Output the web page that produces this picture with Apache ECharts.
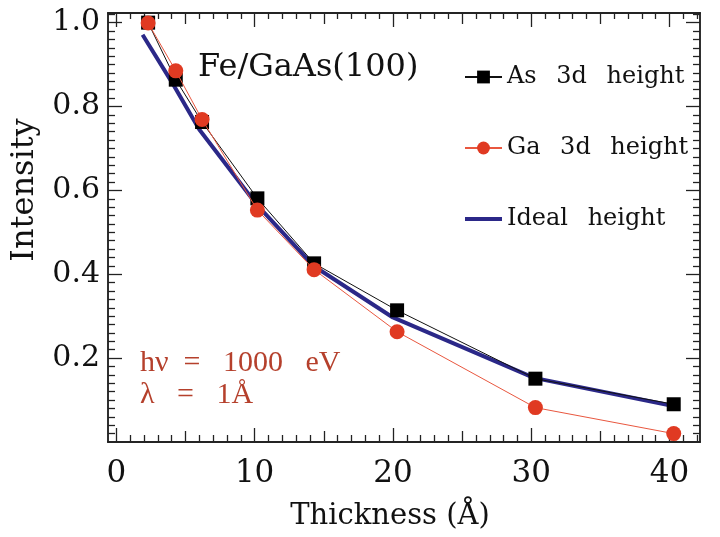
<!DOCTYPE html>
<html>
<head>
<meta charset="utf-8">
<script src="https://cdn.jsdelivr.net/npm/echarts@6/dist/echarts.min.js"></script>
<style>
  html, body { margin: 0; padding: 0; background: #fff; }
  #chart { width: 720px; height: 537px; }
</style>
</head>
<body>
<div id="chart"></div>
<script>
// thickness (A) / normalized intensity
var asThick = [2.3, 4.3, 6.2, 10.2, 14.3, 20.3, 30.3, 40.3];
var asHeight = [1.0, 0.864, 0.763, 0.581, 0.426, 0.314, 0.151, 0.090];
var gaThick = [2.3, 4.3, 6.2, 10.2, 14.3, 20.3, 30.3, 40.3];
var gaHeight = [0.999, 0.885, 0.769, 0.553, 0.411, 0.263, 0.082, 0.020];
var idealThick = [1.9, 4.2, 6.0, 10.1, 14.3, 20.0, 30.2, 40.1];
var idealHeight = [0.971, 0.848, 0.745, 0.568, 0.419, 0.297, 0.153, 0.087];

var xLabels = [0, 10, 20, 30, 40];
var xMedium = [5, 15, 25, 35];
var yLabels = [0.2, 0.4, 0.6, 0.8, 1.0];

var xMin = -0.6, xMax = 42.2;
var yMin = 0, yMax = 1.023;

var serif = 'DejaVu Serif';
var axisColor = '#222';

var asName = 'As\u2002 3d\u2002 height';
var gaName = 'Ga\u2002 3d\u2002 height';
var idealName = 'Ideal\u2002 height';

function pairs(xs, ys) {
    var out = [];
    for (var i = 0; i < xs.length; i++) out.push([xs[i], ys[i]]);
    return out;
}

// minor tick positions
var xMinor = [];
for (var k = 1; k <= 42; k++) {
    if (k % 5 !== 0) xMinor.push(k);
}
var yMinor = [];
for (var m = 1; m <= 51; m++) {
    if (m % 10 !== 0) yMinor.push(Math.round(m * 2) / 100);
}

function makeAxis(pos, min, max, ticks, len, labelOpt) {
    return {
        type: 'value',
        position: pos,
        min: min,
        max: max,
        axisLine: { show: true, onZero: false, lineStyle: { color: axisColor, width: 1.5 } },
        axisTick: { show: true, inside: true, length: len, customValues: ticks,
            lineStyle: { color: axisColor, width: 1.3 } },
        axisLabel: labelOpt || { show: false },
        splitLine: { show: false }
    };
}

var xLabelOpt = {
    show: true, customValues: xLabels, margin: 16,
    fontFamily: serif, fontSize: 31, color: '#111',
    formatter: function (v) { return String(v); }
};
var yLabelOpt = {
    show: true, customValues: yLabels, margin: 8,
    fontFamily: serif, fontSize: 30, color: '#111',
    formatter: function (v) { return v.toFixed(1); }
};

var chart = echarts.init(document.getElementById('chart'));
chart.setOption({
    backgroundColor: '#fff',
    animation: false,
    title: {
        text: 'Fe/GaAs(100)',
        left: 193, top: 47,
        textStyle: { fontFamily: serif, fontSize: 32, fontWeight: 'normal', color: '#111' }
    },
    grid: { left: 108, right: 20, top: 13, bottom: 95 },
    xAxis: [
        makeAxis('bottom', xMin, xMax, xLabels, 14, xLabelOpt),
        makeAxis('bottom', xMin, xMax, xMedium, 11),
        makeAxis('bottom', xMin, xMax, xMinor, 7),
        makeAxis('top', xMin, xMax, xLabels, 14),
        makeAxis('top', xMin, xMax, xMedium, 11),
        makeAxis('top', xMin, xMax, xMinor, 6)
    ],
    yAxis: [
        makeAxis('left', yMin, yMax, yLabels, 14, yLabelOpt),
        makeAxis('left', yMin, yMax, yMinor, 7),
        makeAxis('right', yMin, yMax, yLabels, 14),
        makeAxis('right', yMin, yMax, yMinor, 7)
    ],
    legend: {
        orient: 'vertical',
        left: 458, top: 60,
        itemWidth: 37, itemHeight: 16,
        itemGap: 47,
        textStyle: { fontFamily: serif, fontSize: 24, color: '#111', lineHeight: 24 },
        data: [
            { name: asName },
            { name: gaName },
            { name: idealName, itemStyle: { opacity: 0 }, lineStyle: { width: 4 } }
        ]
    },
    graphic: [
        { type: 'text', x: 25, y: 190, rotation: Math.PI / 2,
          style: { text: 'Intensity', fill: '#111', font: '32px "DejaVu Serif"', align: 'center', verticalAlign: 'middle' } },
        { type: 'text', x: 390, y: 516,
          style: { text: 'Thickness (Å)', fill: '#111', font: '29px "DejaVu Serif"', align: 'center', verticalAlign: 'middle' } },
        { type: 'text', x: 140, y: 363,
          style: { text: 'hν  =   1000   eV', fill: '#b5402c', font: '30px "Liberation Serif"', verticalAlign: 'middle' } },
        { type: 'text', x: 140, y: 395,
          style: { text: 'λ   =   1Å', fill: '#b5402c', font: '30px "Liberation Serif"', verticalAlign: 'middle' } }
    ],
    series: [
        {
            name: idealName, type: 'line', data: pairs(idealThick, idealHeight),
            symbol: 'none', z: 2,
            lineStyle: { color: '#2b2888', width: 4 },
            itemStyle: { color: '#2b2888' }
        },
        {
            name: asName, type: 'line', data: pairs(asThick, asHeight),
            symbol: 'rect', symbolSize: 14, z: 3,
            lineStyle: { color: '#111', width: 1 },
            itemStyle: { color: '#000' }
        },
        {
            name: gaName, type: 'line', data: pairs(gaThick, gaHeight),
            symbol: 'circle', symbolSize: 15, z: 4,
            lineStyle: { color: '#e9573f', width: 1 },
            itemStyle: { color: '#e03a22' }
        }
    ]
});
</script>
</body>
</html>
